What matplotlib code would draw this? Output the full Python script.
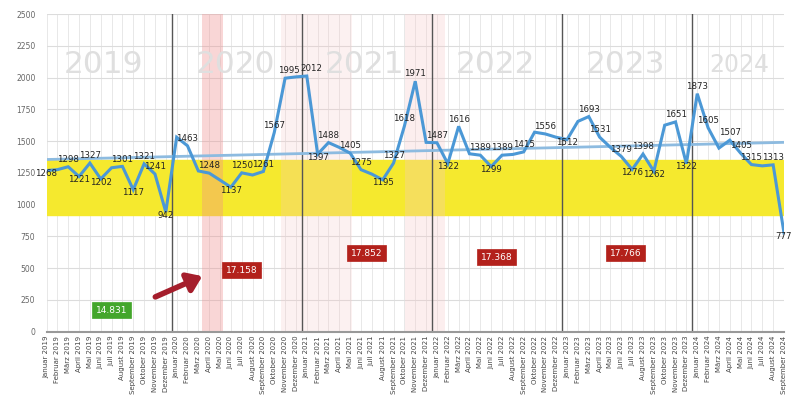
import numpy as np
import matplotlib
matplotlib.use("Agg")
import matplotlib.pyplot as plt

# monthly values, Januar 2019 .. September 2024
months_de = ["Januar", "Februar", "März", "April", "Mai", "Juni", "Juli",
             "August", "September", "Oktober", "November", "Dezember"]
values_2019 = [1268, 1275, 1298, 1221, 1327, 1202, 1290, 1301, 1117, 1321, 1241, 942]
values_2020 = [1530, 1463, 1265, 1248, 1193, 1137, 1250, 1233, 1261, 1567, 1995, 2005]
values_2021 = [2012, 1397, 1488, 1450, 1405, 1275, 1240, 1195, 1327, 1618, 1971, 1490]
values_2022 = [1487, 1322, 1616, 1400, 1389, 1299, 1389, 1395, 1415, 1570, 1556, 1530]
values_2023 = [1512, 1655, 1693, 1531, 1450, 1379, 1276, 1398, 1262, 1625, 1651, 1322]
values_2024 = [1873, 1605, 1445, 1507, 1405, 1315, 1305, 1313, 777]
# points drawn without a value label
unlabeled = [1, 6, 12, 14, 16, 19, 23, 27, 30, 35, 39, 43, 45, 47, 49, 52, 57, 62, 66]

year_names = ["2019", "2020", "2021", "2022", "2023", "2024"]
year_label_pos = [5.3, 17.4, 29.3, 41.4, 53.4, 63.9]

trend_start, trend_end = 1355, 1490
band_low, band_high = 920, 1355

totals = ["14.831", "17.158", "17.852", "17.368", "17.766"]
totals_x = [6.0, 18.0, 29.5, 41.5, 53.4]
totals_y = [170, 485, 619, 587, 619]
totals_color = ["#43a62b", "#b3211b", "#b3211b", "#b3211b", "#b3211b"]

values = values_2019 + values_2020 + values_2021 + values_2022 + values_2023 + values_2024
n = len(values)
x = np.arange(n)
labels = []
for y in range(2019, 2025):
    for m in months_de:
        labels.append(f"{m} {y}")
labels = labels[:n]

fig = plt.figure(figsize=(8.08, 3.97), dpi=100)
ax = fig.add_axes([46.5 / 808, 1 - 331.7 / 397, (784 - 46.5) / 808, (331.7 - 14) / 397])
ax.set_xlim(0, n - 1)
ax.set_ylim(0, 2500)

# grid
for i in x:
    ax.axvline(i, color="#e4e4e4", lw=0.6, zorder=0)
for v in range(0, 2501, 250):
    ax.axhline(v, color="#dcdcdc", lw=0.8, zorder=0)

# shaded areas
ax.axhspan(band_low, band_high, color="#f5e92e", zorder=1)
ax.axvspan(14.3, 16.3, color="#f08c8c", alpha=0.35, zorder=1.2, lw=0)
ax.axvspan(21.6, 28.2, color="#f6c8c8", alpha=0.25, zorder=1.2, lw=0)
ax.axvspan(33.1, 36.7, color="#f6c8c8", alpha=0.3, zorder=1.2, lw=0)

# year separators
for b in [11.55, 23.55, 35.55, 47.55, 59.55]:
    ax.axvline(b, color="#555555", lw=1, zorder=2)

for name, px in zip(year_names, year_label_pos):
    fs = 17 if name == "2024" else 22.5
    ax.text(px, 2100, name, fontsize=fs, color="#dfdfdf", ha="center",
            va="center", zorder=1.5)

ax.plot([0, n - 1], [trend_start, trend_end], color="#8dbbe0", lw=2, zorder=3)
ax.plot(x, values, color="#4b98d6", lw=2.2, zorder=4, solid_joinstyle="miter")

for i, v in enumerate(values):
    if i in unlabeled:
        continue
    left = values[i - 1] if i > 0 else v + 1
    right = values[i + 1] if i < n - 1 else v + 1
    dx = 3 if v == 1995 else (3 if v == 2012 else 0)
    if v < left and v < right:
        ax.annotate(str(v), (i, v), xytext=(dx, 1), textcoords="offset points",
                    ha="center", va="top", fontsize=6.2, color="#222222", zorder=5)
    else:
        ax.annotate(str(v), (i, v), xytext=(dx, 2), textcoords="offset points",
                    ha="center", va="bottom", fontsize=6.2, color="#222222", zorder=5)

for t, tx, ty, c in zip(totals, totals_x, totals_y, totals_color):
    ax.text(tx, ty, t, color="white", fontsize=6.5, ha="center", va="center", zorder=6,
            bbox=dict(boxstyle="square,pad=0.4", fc=c, ec=c, lw=0.5))

ax.annotate("", xy=(14.6, 446), xytext=(9.8, 265), zorder=6,
            arrowprops=dict(arrowstyle="-|>,head_length=0.7,head_width=0.5",
                            color="#a51e2c", lw=4, mutation_scale=12))

ax.set_yticks(range(0, 2501, 250))
ax.set_xticks(x)
ax.set_xticklabels(labels, rotation=90, fontsize=5, color="#444444")
ax.tick_params(axis="y", labelsize=5.5, labelcolor="#666666", length=0, pad=8)
ax.tick_params(axis="x", length=0, pad=3)
for s in ["top", "right", "left"]:
    ax.spines[s].set_visible(False)
ax.spines["bottom"].set_color("#999999")
ax.spines["bottom"].set_linewidth(1.5)

fig.savefig("out.png", dpi=100)
